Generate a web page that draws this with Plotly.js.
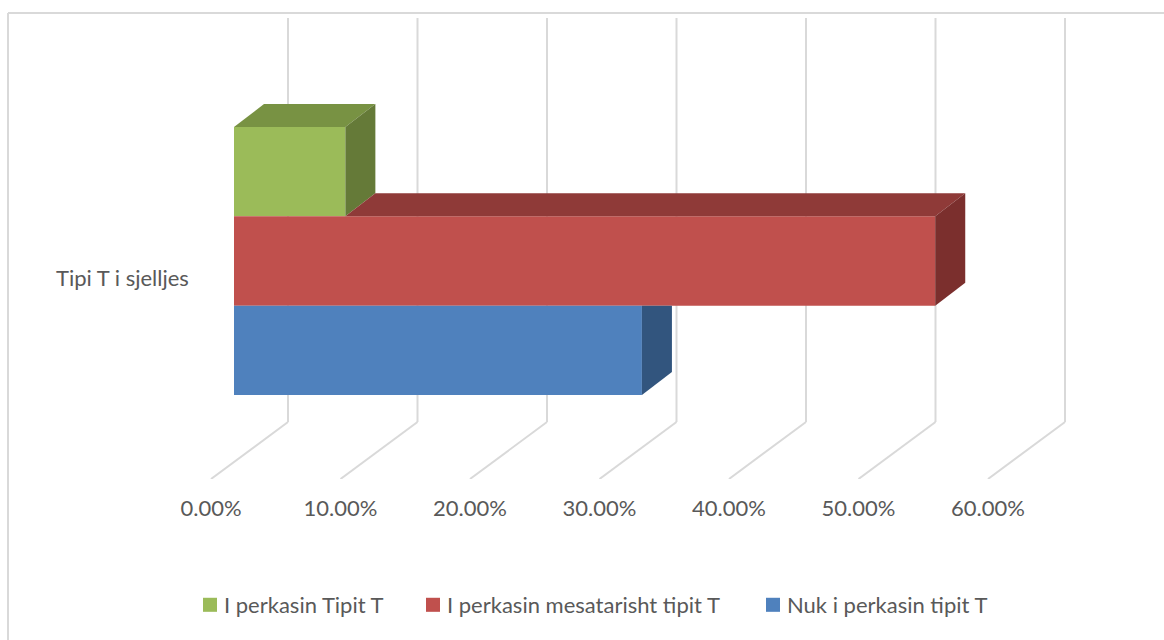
<!DOCTYPE html>
<html>
<head>
<meta charset="utf-8">
<script src="https://cdn.plot.ly/plotly-3.0.1.min.js"></script>
<style>html,body{margin:0;padding:0;background:#fff}#chart{width:1164px;height:640px}</style>
</head>
<body>
<div id="chart"></div>
<script>
const categoryLabel = "Tipi T i sjelljes";
const seriesNames = ["I perkasin Tipit T", "I perkasin mesatarisht tipit T", "Nuk i perkasin tipit T"];
const seriesValues = [8.6, 54.15, 31.5];
const tickValues = [0, 10, 20, 30, 40, 50, 60];
const tickLabels = ["0.00%", "10.00%", "20.00%", "30.00%", "40.00%", "50.00%", "60.00%"];
const frontColors = ["#9BBB59", "#C0504D", "#4F81BD"];
const topColors = ["#789243", "#8F3A38", "#3B618E"];
const sideColors = ["#657A38", "#7B2F2D", "#32557E"];
const legendTextStart = [224, 447, 787];

const pxPerUnit = 12.95;
const W = 1164, H = 640, floorPx = 479;
const dx = d => d / pxPerUnit;
const wallX = dx(77), wallY = 57, wallTop = 461;
const barBase = dx(23), barDX = dx(30), barDY = 23;
const barBottom = 84, barH = 89.33;
const slotCenter = i => barBottom + barH * (seriesValues.length - 1 - i + 0.5);
const legendKey = i => i === 0 ? "legend" : "legend" + (i + 1);

const bars = seriesNames.map((n, i) => ({
  type: "bar", orientation: "h", name: n, legend: legendKey(i),
  x: [seriesValues[i]], y: [slotCenter(i)], base: [barBase], width: [barH],
  marker: {color: frontColors[i], line: {width: 0}},
  hoverinfo: "skip"
}));

const faces = [];
seriesValues.forEach((v, i) => {
  const above = i > 0 ? seriesValues[i - 1] : 0;
  const yLo = slotCenter(i) - barH / 2, yHi = slotCenter(i) + barH / 2;
  const right = barBase + v;
  if (v > above) {
    const start = barBase + above;
    faces.push({type: "scatter", mode: "lines", fill: "toself", showlegend: false, hoverinfo: "skip",
      x: [start, start + barDX, right + barDX, right, start],
      y: [yHi, yHi + barDY, yHi + barDY, yHi, yHi],
      line: {width: 0, color: topColors[i]}, fillcolor: topColors[i]});
  }
  const sideTop = above > v ? yHi : yHi + barDY;
  faces.push({type: "scatter", mode: "lines", fill: "toself", showlegend: false, hoverinfo: "skip",
    x: [right, right + barDX, right + barDX, right, right],
    y: [yLo, yLo + barDY, sideTop, yHi, yLo],
    line: {width: 0, color: sideColors[i]}, fillcolor: sideColors[i]});
});

const grid = {color: "#D9D9D9", width: 2};
const shapes = [];
tickValues.forEach(t => {
  shapes.push({type: "line", layer: "below", xref: "x", yref: "y", x0: t, y0: 0, x1: t + wallX, y1: wallY, line: grid});
  shapes.push({type: "line", layer: "below", xref: "x", yref: "y", x0: t + wallX, y0: wallY, x1: t + wallX, y1: wallTop, line: grid});
});
shapes.push({type: "line", layer: "below", xref: "paper", yref: "paper", x0: 8 / W, x1: 8 / W, y0: 466 / floorPx, y1: (floorPx - H) / floorPx, line: grid});
shapes.push({type: "line", layer: "below", xref: "paper", yref: "paper", x0: 8 / W, x1: 1, y0: 466 / floorPx, y1: 466 / floorPx, line: grid});

const font = {family: "Lato, 'Open Sans', sans-serif", size: 22, color: "#595959"};
const layout = {
  width: W, height: H,
  margin: {l: 0, r: 0, t: 0, b: H - floorPx, pad: 0},
  paper_bgcolor: "#fff", plot_bgcolor: "rgba(0,0,0,0)",
  font: font, barmode: "overlay", shapes: shapes,
  xaxis: {range: [-211 / pxPerUnit, (W - 211) / pxPerUnit], tickmode: "array", tickvals: tickValues, ticktext: tickLabels,
    showgrid: false, zeroline: false, showline: false, ticks: "outside", ticklen: 10, tickcolor: "rgba(0,0,0,0)", tickfont: font, fixedrange: true},
  yaxis: {range: [0, floorPx], showgrid: false, zeroline: false, showline: false, showticklabels: false, ticks: "", fixedrange: true},
  annotations: [{text: categoryLabel, xref: "x", yref: "y", x: dx(191 - 211), y: floorPx - 277, xanchor: "right", yanchor: "middle", showarrow: false, font: font}]
};
seriesNames.forEach((n, i) => {
  layout[legendKey(i)] = {orientation: "h", x: (legendTextStart[i] - 40) / W, xanchor: "left", y: (floorPx - 605) / floorPx, yanchor: "middle",
    font: font, bgcolor: "rgba(0,0,0,0)"};
});
Plotly.newPlot("chart", bars.concat(faces), layout, {displayModeBar: false, staticPlot: true}).then(gd => {
  gd.querySelectorAll(".legendsymbols").forEach(g => {
    g.setAttribute("transform", "translate(2.6,0) scale(1.17)");
  });
});
</script>
</body>
</html>
